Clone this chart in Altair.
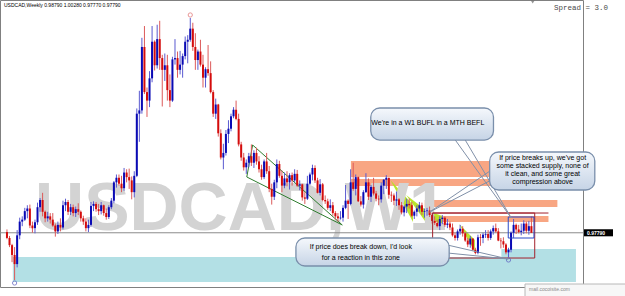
import altair as alt
import pandas as pd

# ---------------- candle data (weekly USDCAD) ----------------
FIRST_OPEN = 0.979
closes = [0.970,0.959,0.944,0.930,0.974,0.995,0.998,1.011,1.015,0.989,
          0.985,0.994,1.017,1.028,1.010,1.000,1.003,0.998,0.989,0.980,
          0.990,0.986,1.020,1.025,1.010,1.017,1.008,1.014,1.010,1.000,
          0.995,0.985,0.990,1.019,1.022,1.014,1.011,1.020,1.008,1.002,
          1.017,1.027,1.055,1.062,1.053,1.046,1.070,1.063,1.058,1.040,
          1.065,1.160,1.165,1.262,1.193,1.180,1.214,1.270,1.234,1.274,
          1.245,1.227,1.234,1.196,1.180,1.243,1.245,1.227,1.235,1.248,
          1.270,1.273,1.290,1.262,1.242,1.255,1.235,1.215,1.228,1.222,
          1.193,1.160,1.174,1.130,1.093,1.100,1.129,1.137,1.156,1.166,
          1.152,1.113,1.093,1.078,1.085,1.095,1.085,1.100,1.087,1.075,
          1.063,1.087,1.072,1.045,1.033,1.055,1.083,1.065,1.050,1.061,
          1.055,1.066,1.058,1.068,1.050,1.052,1.032,1.030,1.053,1.067,
          1.077,1.058,1.039,1.052,1.028,1.026,1.016,1.020,1.008,1.003,
          1.000,1.001,1.016,1.027,1.022,1.055,1.045,1.063,1.026,1.021,
          1.040,1.055,1.033,1.048,1.038,1.030,1.029,1.050,1.059,1.062,
          1.036,1.035,1.027,1.029,1.020,1.009,1.018,1.022,1.020,1.004,
          1.010,1.015,1.020,1.010,1.011,1.012,1.005,0.996,0.993,0.988,
          0.999,1.001,0.990,0.992,0.986,0.974,0.970,0.980,0.984,0.977,
          0.966,0.960,0.969,0.952,0.947,0.971,0.970,0.975,0.976,0.970,
          0.980,0.985,0.980,0.966,0.965,0.960,0.948,0.952,0.978,0.990,
          0.983,0.979,0.981,0.992,0.981,0.988,0.9779]
highs = [0.983,0.973,0.961,0.956,0.982,1.001,1.003,1.016,1.020,1.021,
         0.995,0.998,1.024,1.031,1.039,1.012,1.010,1.008,1.008,0.992,
         0.995,1.000,1.027,1.030,1.028,1.022,1.021,1.018,1.023,1.012,
         1.004,1.000,0.998,1.025,1.026,1.025,1.022,1.025,1.021,1.015,
         1.020,1.031,1.057,1.067,1.067,1.065,1.077,1.075,1.076,1.064,
         1.072,1.168,1.195,1.276,1.294,1.200,1.225,1.294,1.272,1.296,
         1.302,1.250,1.252,1.250,1.220,1.247,1.274,1.255,1.256,1.252,
         1.278,1.280,1.3063,1.299,1.283,1.258,1.273,1.250,1.231,1.265,
         1.240,1.196,1.183,1.175,1.136,1.114,1.135,1.150,1.160,1.170,
         1.180,1.160,1.117,1.100,1.090,1.100,1.113,1.104,1.108,1.095,
         1.082,1.090,1.100,1.080,1.053,1.059,1.090,1.088,1.073,1.070,
         1.072,1.069,1.070,1.075,1.074,1.058,1.053,1.040,1.065,1.070,
         1.082,1.081,1.062,1.060,1.054,1.035,1.030,1.029,1.025,1.011,
         1.008,1.011,1.020,1.051,1.029,1.075,1.085,1.067,1.064,1.034,
         1.043,1.069,1.061,1.051,1.062,1.042,1.035,1.055,1.060,1.066,
         1.062,1.041,1.038,1.041,1.031,1.025,1.020,1.030,1.030,1.025,
         1.012,1.020,1.025,1.024,1.015,1.016,1.018,1.008,1.003,0.998,
         1.003,1.005,1.003,0.999,0.995,0.992,0.978,0.983,0.990,0.988,
         0.979,0.970,0.973,0.970,0.955,0.975,0.976,0.978,0.982,0.982,
         0.983,0.989,0.992,0.985,0.970,0.971,0.962,0.955,0.980,0.999,
         0.992,0.990,0.992,0.997,0.995,0.996,1.0028]
lows = [0.968,0.956,0.933,0.9056,0.925,0.968,0.988,0.996,1.000,0.985,
        0.978,0.977,0.990,1.010,1.003,0.994,0.995,0.992,0.987,0.972,
        0.976,0.980,0.983,1.011,1.005,1.005,1.003,1.002,1.005,0.995,
        0.990,0.980,0.979,0.987,1.011,1.010,1.005,1.006,1.004,0.998,
        0.999,1.014,1.023,1.047,1.050,1.040,1.042,1.055,1.045,1.029,
        1.032,1.063,1.117,1.160,1.190,1.155,1.170,1.208,1.226,1.229,
        1.227,1.171,1.210,1.180,1.170,1.178,1.235,1.215,1.220,1.215,
        1.243,1.237,1.270,1.256,1.227,1.227,1.232,1.200,1.200,1.218,
        1.191,1.155,1.152,1.125,1.090,1.075,1.096,1.115,1.133,1.153,
        1.150,1.110,1.088,1.073,1.068,1.078,1.080,1.077,1.082,1.070,
        1.059,1.060,1.068,1.040,1.021,1.028,1.046,1.062,1.040,1.046,
        1.049,1.044,1.050,1.055,1.048,1.043,1.027,1.022,1.028,1.051,
        1.058,1.054,1.038,1.035,1.026,1.022,1.013,1.011,1.004,0.998,
        0.995,0.998,0.995,1.014,0.999,1.020,1.042,1.035,1.025,1.018,
        1.015,1.039,1.028,1.025,1.035,1.026,1.020,1.024,1.037,1.045,
        1.030,1.025,1.020,1.019,1.013,1.006,1.003,1.008,1.015,1.002,
        0.999,1.003,1.010,1.005,1.001,1.004,1.002,0.992,0.990,0.986,
        0.982,0.991,0.987,0.985,0.982,0.972,0.966,0.966,0.975,0.972,
        0.964,0.956,0.955,0.950,0.945,0.945,0.958,0.962,0.970,0.966,
        0.967,0.975,0.978,0.965,0.954,0.955,0.945,0.9406,0.948,0.970,
        0.976,0.977,0.974,0.976,0.977,0.975,0.9777]

date_labels = ["14 Oct 2007", "9 Dec 2007", "3 Feb 2008", "30 Mar 2008", "25 May 2008",
               "20 Jul 2008", "14 Sep 2008", "9 Nov 2008", "4 Jan 2009", "1 Mar 2009",
               "26 Apr 2009", "21 Jun 2009", "16 Aug 2009", "11 Oct 2009", "6 Dec 2009",
               "31 Jan 2010", "28 Mar 2010", "23 May 2010", "18 Jul 2010", "12 Sep 2010",
               "7 Nov 2010", "2 Jan 2011", "27 Feb 2011", "24 Apr 2011", "19 Jun 2011",
               "14 Aug 2011"]
date_ticks = [0, 8, 16, 24, 32, 40, 48, 56, 64, 72, 80, 88, 96, 104, 112, 120, 128,
              136, 144, 152, 160, 168, 176, 184, 192, 200]
price_ticks = [1.3231, 1.3073, 1.2914, 1.2756, 1.2598, 1.2440, 1.2281, 1.2123, 1.1965,
               1.1807, 1.1648, 1.1490, 1.1332, 1.1174, 1.1015, 1.0857, 1.0699, 1.0541,
               1.0382, 1.0224, 1.0066, 0.9908, 0.9591, 0.9433, 0.9274, 0.9116]
last_price = 0.9779

# ---------------- annotation objects (in week-index / price units) ----------------
cyan = pd.DataFrame({"x0": [2.3, 194.2], "x1": [223.5, 223.5],
                     "p_hi": [0.9409, 0.9531], "p_lo": [0.9026, 0.9409]})
orange = pd.DataFrame({"x0": [135.1, 135.1, 164.1, 165.3],
                       "x1": [191.1, 214.7, 216.2, 212.7],
                       "p_hi": [1.0876, 1.0601, 1.0280, 1.0035],
                       "p_lo": [1.0632, 1.0494, 1.0173, 0.9943]})
lime = pd.DataFrame({"tri": [1, 1, 2, 2, 3, 3, 4, 4],
                     "x": [150.6, 159.5, 156.8, 164.5, 164.5, 171.0, 177.6, 183.8],
                     "p_top": [1.0586, 1.0204, 1.0356, 1.0127, 1.0127, 1.0035, 0.9913, 0.9668],
                     "p_bot": [1.0586, 0.9943, 1.0356, 0.9943, 1.0127, 0.9852, 0.9913, 0.9485]})
green = pd.DataFrame({"seg": ["a", "a", "b", "b", "c", "c"],
                      "x": [96.5, 131.7, 94.2, 131.7, 94.2, 96.5],
                      "p": [1.1121, 0.9898, 1.0632, 0.9898, 1.0632, 1.1121]})
tails = pd.DataFrame({"seg": ["1a", "1a", "1b", "1b", "2a", "2a", "2b", "2b", "3a", "3a", "3b", "3b"],
                      "x": [176.1, 198.1, 180.0, 198.1, 166.0, 190.3, 166.0, 190.3, 173.0, 196.9, 173.0, 196.9],
                      "p": [1.1197, 1.0005, 1.1197, 1.0005, 1.0096, 1.0739, 1.0096, 1.0586, 0.9592, 0.9378, 0.9470, 0.9378]})
maroon_box = pd.DataFrame({"x0": [167.2], "x1": [207.3], "p_hi": [1.0081], "p_lo": [0.9393], "xe": [212.7]})
blue_box = pd.DataFrame({"x0": [196.9], "x1": [207.0], "p_hi": [1.0020], "p_lo": [0.9699]})
hi_circles = pd.DataFrame({"x": [72], "p": [1.3109]})
lo_circles = pd.DataFrame({"x": [3, 197], "p": [0.9011, 0.9363]})
bubbles = pd.DataFrame({"x0": [142.9, 189.6, 113.5], "x1": [191.1, 230.9, 173.7],
                        "p_hi": [1.1687, 1.1014, 0.9699], "p_lo": [1.1197, 1.0433, 0.9271]})
bubble_text = pd.DataFrame({
    "x": [165.3, 210.4, 210.4, 210.4, 210.4, 139.0, 139.0],
    "p": [1.1457, 1.0922, 1.0800, 1.0677, 1.0555, 0.9561, 0.9393],
    "t": ["We're in a W1 BUFL in a MTH BEFL",
          "If price breaks up, we've got", "some stacked supply, none of",
          "it clean, and some great", "compression above",
          "If price does break down, I'd look", "for a reaction in this zone"]})
watermark = pd.DataFrame({"x": [91.9], "p": [0.9821], "t": ["USDCAD,W1"]})

# ---------------- build candle table ----------------
opens = [FIRST_OPEN] + closes[:-1]
rows = []
for i, (o, h, l, c) in enumerate(zip(opens, highs, lows, closes)):
    rows.append({"i": i, "o": o, "h": max(h, o, c), "l": min(l, o, c), "c": c,
                 "dir": "up" if c >= o else "down"})
candles = pd.DataFrame(rows)

XS = alt.Scale(domain=[-0.772, 224.3], nice=False, zero=False)
YS = alt.Scale(domain=[0.8950, 1.3338], nice=False, zero=False)
FONT = "Liberation Sans"

label_expr = "[" + ",".join("'" + s + "'" for s in date_labels) + "][round(datum.value/8)]"

def rect_layer(df, **mk):
    return alt.Chart(df).mark_rect(**mk).encode(
        x=alt.X("x0:Q", scale=XS, axis=None), x2="x1:Q",
        y=alt.Y("p_hi:Q", scale=YS, axis=None), y2="p_lo:Q")

cyan_l = rect_layer(cyan, color="#b3e0e5")
orange_l = rect_layer(orange, color="#f8a683")
lime_l = alt.Chart(lime).mark_area(color="#b5e420", opacity=0.95).encode(
    x=alt.X("x:Q", scale=XS, axis=None),
    y=alt.Y("p_top:Q", scale=YS, axis=None), y2="p_bot:Q", detail="tri:N")
wm_l = alt.Chart(watermark).mark_text(
    font=FONT, fontWeight="bold", fontSize=68, color="#d3d3d3",
    align="center", baseline="alphabetic").encode(
    x=alt.X("x:Q", scale=XS, axis=None), y=alt.Y("p:Q", scale=YS, axis=None), text="t:N")
green_l = alt.Chart(green).mark_line(color="#2f7d2f", strokeWidth=1).encode(
    x=alt.X("x:Q", scale=XS, axis=None), y=alt.Y("p:Q", scale=YS, axis=None), detail="seg:N")
price_line = alt.Chart(pd.DataFrame({"p": [last_price]})).mark_rule(
    color="#8c8c8c", strokeWidth=1).encode(y=alt.Y("p:Q", scale=YS, axis=None))

x_axis = alt.Axis(values=date_ticks, labelExpr=label_expr, grid=False,
                  labelFont=FONT, labelFontSize=5, labelColor="#000",
                  labelAlign="left", labelBaseline="top", labelPadding=-6,
                  labelFlush=False, labelBound=False, labelOverlap=False,
                  labelOffset=1, tickSize=8, tickColor="#000", domainColor="#000")
y_axis = alt.Axis(orient="right", values=price_ticks, format=".5f", grid=False,
                  labelFont=FONT, labelFontSize=5, labelColor="#000",
                  labelPadding=2, tickSize=3, tickColor="#000",
                  domainColor="#000", labelOverlap=False, labelFlush=False)

base = alt.Chart(candles)
wick_up = base.transform_filter("datum.dir == 'up'").mark_rule(strokeWidth=1, color="#5a5ad0").encode(
    x=alt.X("i:Q", scale=XS, title=None, axis=x_axis),
    y=alt.Y("l:Q", scale=YS, title=None, axis=y_axis), y2="h:Q")
wick_dn = base.transform_filter("datum.dir == 'down'").mark_rule(strokeWidth=1, color="#dc5a5a").encode(
    x=alt.X("i:Q", scale=XS, axis=None), y=alt.Y("l:Q", scale=YS, axis=None), y2="h:Q")
body_up = base.transform_filter("datum.dir == 'up'").mark_bar(size=2, color="#0a0ab4").encode(
    x=alt.X("i:Q", scale=XS, axis=None), y=alt.Y("o:Q", scale=YS, axis=None), y2="c:Q")
body_dn = base.transform_filter("datum.dir == 'down'").mark_bar(size=2, color="#d40c0c").encode(
    x=alt.X("i:Q", scale=XS, axis=None), y=alt.Y("o:Q", scale=YS, axis=None), y2="c:Q")

maroon_l = rect_layer(maroon_box, fillOpacity=0, stroke="#a3202c", strokeWidth=1)
maroon_top = alt.Chart(maroon_box).mark_rule(color="#a3202c", strokeWidth=1).encode(
    x=alt.X("x0:Q", scale=XS, axis=None), x2="xe:Q", y=alt.Y("p_hi:Q", scale=YS, axis=None))
blue_l = rect_layer(blue_box, fillOpacity=0, stroke="#2a48c8", strokeWidth=1)
hi_l = alt.Chart(hi_circles).mark_point(shape="circle", filled=False, size=18, strokeWidth=1,
                                         color="#e06a6a").encode(
    x=alt.X("x:Q", scale=XS, axis=None), y=alt.Y("p:Q", scale=YS, axis=None))
lo_l = alt.Chart(lo_circles).mark_point(shape="circle", filled=False, size=18, strokeWidth=1,
                                         color="#5a5ac0").encode(
    x=alt.X("x:Q", scale=XS, axis=None), y=alt.Y("p:Q", scale=YS, axis=None))
tails_l = alt.Chart(tails).mark_line(color="#8090a8", strokeWidth=1).encode(
    x=alt.X("x:Q", scale=XS, axis=None), y=alt.Y("p:Q", scale=YS, axis=None), detail="seg:N")
grad = alt.Gradient(gradient="linear",
                    stops=[alt.GradientStop(color="#f5f8fc", offset=0),
                           alt.GradientStop(color="#c6d4e6", offset=1)],
                    x1=0, x2=0, y1=0, y2=1)
bubble_l = rect_layer(bubbles, fill=grad, stroke="#7a8fab", strokeWidth=1.3, cornerRadius=9)
btext_l = alt.Chart(bubble_text).mark_text(font=FONT, fontSize=7, color="#000",
                                           align="center", baseline="middle").encode(
    x=alt.X("x:Q", scale=XS, axis=None), y=alt.Y("p:Q", scale=YS, axis=None), text="t:N")

one = pd.DataFrame({"t": ["USDCAD,Weekly  0.98790 1.00280 0.97770 0.97790"]})
header = alt.Chart(one).mark_text(font=FONT, fontSize=5, color="#000", align="left",
                                  baseline="middle").encode(
    x=alt.value(4), y=alt.value(5), text="t:N")
spread = alt.Chart(pd.DataFrame({"t": ["Spread  =    3.0"]})).mark_text(
    font="Liberation Mono", fontSize=7.5, color="#4a4a4a", align="right", baseline="middle").encode(
    x=alt.value(608), y=alt.value(8), text="t:N")
marker = alt.Chart(pd.DataFrame({"x": [206.5]})).mark_point(
    shape="triangle-down", filled=True, size=14, color="#666").encode(
    x=alt.X("x:Q", scale=XS, axis=None), y=alt.value(2))
pbox = alt.Chart(pd.DataFrame({"hi": [last_price + 0.0054], "lo": [last_price - 0.0054]})).mark_rect(
    color="#000").encode(x=alt.value(584), x2=alt.value(613),
                         y=alt.Y("hi:Q", scale=YS, axis=None), y2="lo:Q")
ptext = alt.Chart(pd.DataFrame({"p": [last_price], "t": ["0.97790"]})).mark_text(
    font=FONT, fontSize=5, fontWeight="bold", color="#fff", align="left", baseline="middle").encode(
    x=alt.value(587), y=alt.Y("p:Q", scale=YS, axis=None), text="t:N")
popup = alt.Chart(pd.DataFrame({"a": [0]})).mark_rect(
    fill="#f7f7f7", stroke="#b8b8b8", strokeWidth=1).encode(
    x=alt.value(525), x2=alt.value(641), y=alt.value(284), y2=alt.value(300))
popup_t = alt.Chart(pd.DataFrame({"t": ["mail.cocoisite.com"]})).mark_text(
    font=FONT, fontSize=5, color="#8a8a8a", align="left", baseline="middle").encode(
    x=alt.value(529), y=alt.value(289), text="t:N")

chart = alt.layer(
    cyan_l, orange_l, lime_l, wm_l, green_l, price_line, wick_up, wick_dn, body_up, body_dn,
    maroon_l, maroon_top, blue_l, hi_l, lo_l, tails_l, bubble_l, btext_l,
    header, spread, marker, pbox, ptext, popup, popup_t
).properties(
    width=583, height=287, autosize="none",
    padding={"left": 0, "top": 0, "right": 42, "bottom": 9},
    background="#ffffff"
).configure_view(stroke="#808080", strokeWidth=1)

chart.save("out.html", embed_options={"renderer": "svg", "actions": False})
